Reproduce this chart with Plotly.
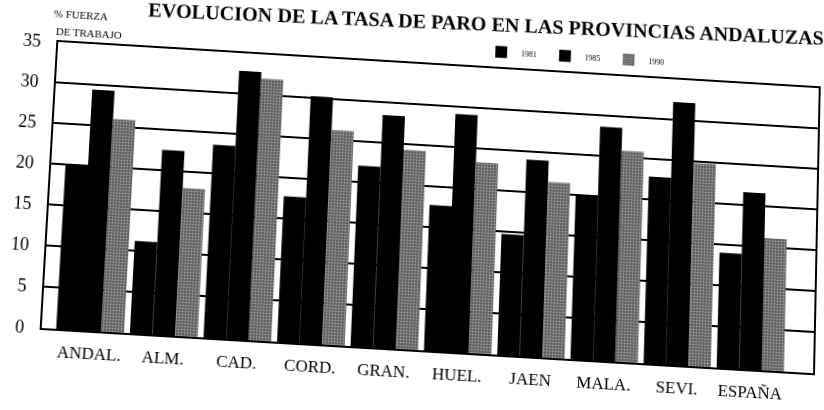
import numpy as np
import plotly.graph_objects as go

# Tasa de paro (% de la fuerza de trabajo) por provincia
provincias = ["ANDAL.", "ALM.", "CAD.", "CORD.", "GRAN.", "HUEL.", "JAEN", "MALA.", "SEVI.", "ESPAÑA"]
paro_1981 = [19.9, 11.2, 23.5, 17.7, 22.0, 17.7, 14.7, 20.0, 22.8, 14.0]
paro_1985 = [29.4, 22.5, 32.8, 30.2, 28.4, 29.1, 24.0, 28.6, 32.2, 21.6]
paro_1990 = [25.9, 18.0, 32.0, 26.2, 24.3, 23.3, 21.4, 25.8, 24.8, 16.1]
y_ticks = [0, 5, 10, 15, 20, 25, 30, 35]

SERIF = "Liberation Serif, Times New Roman, serif"
W, H = 824, 410
ML, MR, MT, MB = 37, 6, 63, 60
PW, PH = W - ML - MR, H - MT - MB

# The printed sheet is skewed on the page: the plot frame corners (in the
# figure's own pixels) land on these page positions.
frame_src = np.array([[ML, MT], [ML + PW, MT], [ML, MT + PH], [ML + PW, MT + PH]], float)
frame_dst = np.array([[53.3, 41.7], [820.7, 88.3], [36.7, 327.7], [815.0, 373.3]], float)


def homography(src, dst):
    rows, rhs = [], []
    for (x, y), (u, v) in zip(src, dst):
        rows.append([x, y, 1, 0, 0, 0, -u * x, -u * y]); rhs.append(u)
        rows.append([0, 0, 0, x, y, 1, -v * x, -v * y]); rhs.append(v)
    h = np.linalg.solve(np.array(rows), np.array(rhs))
    return np.append(h, 1.0).reshape(3, 3)


Hm = homography(frame_src, frame_dst)
Hinv = np.linalg.inv(Hm)


def to_paper(px, py):
    """Page position on the skewed sheet -> paper coordinates of the figure."""
    v = Hinv @ np.array([px, py, 1.0])
    x, y = v[0] / v[2], v[1] / v[2]
    return (x - ML) / PW, (MT + PH - y) / PH


title_xy = to_paper(486, 23.5)
fuerza_xy = to_paper(47, 13.0)
trabajo_xy = to_paper(49, 31.0)
legend_xy = to_paper(577, 56.5)

fig = go.Figure()
fig.add_trace(go.Bar(name="1981", x=provincias, y=paro_1981,
                     marker=dict(color="black", line=dict(width=0))))
fig.add_trace(go.Bar(name="1985", x=provincias, y=paro_1985,
                     marker=dict(color="black", line=dict(width=0))))
fig.add_trace(go.Bar(name="1990", x=provincias, y=paro_1990,
                     marker=dict(color="#5a5a5a", line=dict(width=0),
                                 pattern=dict(shape=".", fgcolor="#f2f2f2",
                                              size=3, solidity=0.35))))

fig.update_layout(
    width=W, height=H,
    margin=dict(l=ML, r=MR, t=MT, b=MB),
    paper_bgcolor="white", plot_bgcolor="white",
    barmode="group", bargap=0.08, bargroupgap=0,
    font=dict(family=SERIF, color="black"),
    legend=dict(orientation="h", x=legend_xy[0], xanchor="center",
                y=legend_xy[1], yanchor="middle",
                font=dict(family=SERIF, size=8), itemwidth=30,
                entrywidth=20, entrywidthmode="pixels", bgcolor="rgba(0,0,0,0)"),
    showlegend=True,
    xaxis=dict(range=[-0.656, 9.86], showgrid=False, ticks="",
               showline=True, linecolor="black", linewidth=2, mirror=True,
               tickfont=dict(family=SERIF, size=17), ticklabelstandoff=6),
    yaxis=dict(range=[0, 35], tickvals=y_ticks, showgrid=True, gridcolor="black",
               gridwidth=1.6, zeroline=False, ticks="",
               showline=True, linecolor="black", linewidth=2, mirror=True,
               tickfont=dict(family=SERIF, size=18), ticklabelstandoff=12),
    annotations=[
        dict(text="<b>EVOLUCION DE LA TASA DE PARO EN LAS PROVINCIAS ANDALUZAS</b>",
             xref="paper", yref="paper", x=title_xy[0], y=title_xy[1],
             xanchor="center", yanchor="middle", textangle=-1.1, showarrow=False,
             font=dict(family=SERIF, size=20.5)),
        dict(text="% FUERZA", xref="paper", yref="paper",
             x=fuerza_xy[0], y=fuerza_xy[1], xanchor="left", yanchor="middle",
             showarrow=False, font=dict(family=SERIF, size=11)),
        dict(text="DE TRABAJO", xref="paper", yref="paper",
             x=trabajo_xy[0], y=trabajo_xy[1], xanchor="left", yanchor="middle",
             showarrow=False, font=dict(family=SERIF, size=11)),
    ],
)

# Apply the sheet skew to the whole chart as a projective CSS transform.
m = Hm / Hm[2, 2]
matrix3d = ",".join(f"{v:.10g}" for v in [
    m[0, 0], m[1, 0], 0, m[2, 0],
    m[0, 1], m[1, 1], 0, m[2, 1],
    0, 0, 1, 0,
    m[0, 2], m[1, 2], 0, m[2, 2],
])
skew_js = """
var gd = document.getElementById('{plot_id}');
document.documentElement.style.overflow = 'hidden';
document.body.style.overflow = 'hidden';
gd.style.transformOrigin = '0 0';
gd.style.transform = 'matrix3d(%s)';
""" % matrix3d

fig.write_html("out.html", post_script=skew_js)
